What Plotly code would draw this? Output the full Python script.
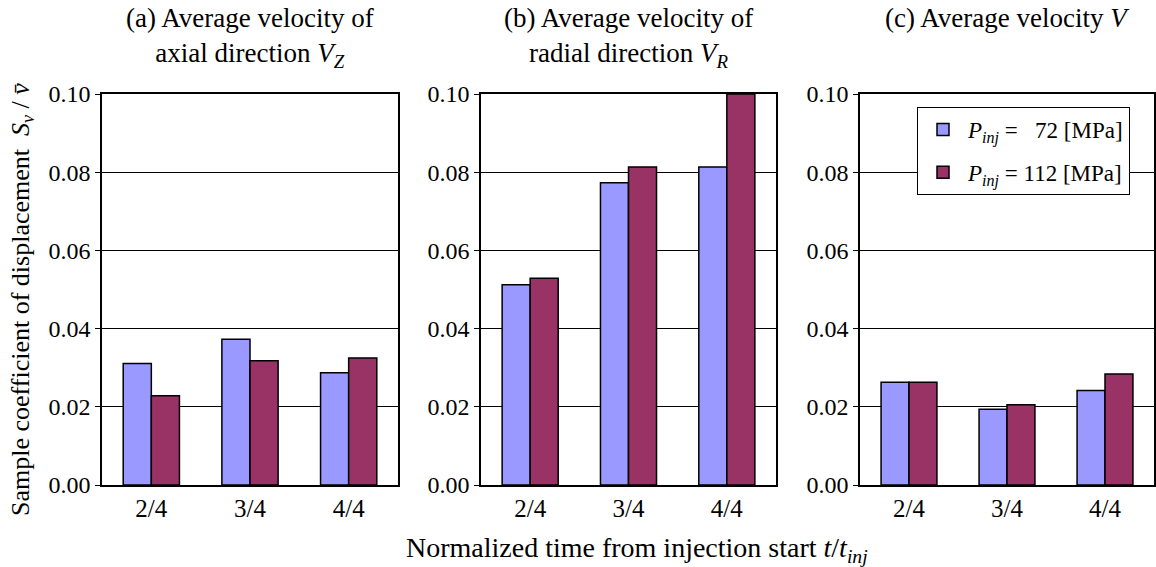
import plotly.graph_objects as go

categories = ["2/4", "3/4", "4/4"]
# Panel (a) axial V_Z
a_72 = [0.0311, 0.0373, 0.0287]
a_112 = [0.0228, 0.0318, 0.0325]
# Panel (b) radial V_R
b_72 = [0.0512, 0.0773, 0.0813]
b_112 = [0.0529, 0.0813, 0.1000]
# Panel (c) V
c_72 = [0.0263, 0.0194, 0.0242]
c_112 = [0.0263, 0.0205, 0.0284]

titles = ["(a) Average velocity of<br>axial direction <i>V</i><sub><i>Z</i></sub>",
          "(b) Average velocity of<br>radial direction <i>V</i><sub><i>R</i></sub>",
          "(c) Average velocity <i>V</i>"]
names = ["<i>P</i><sub><i>inj</i></sub> =&nbsp;&nbsp;&nbsp;72 [MPa]",
         "<i>P</i><sub><i>inj</i></sub> = 112 [MPa]"]
colors = ["#9999FF", "#993366"]

W, H = 1156, 567
FONT = "Liberation Serif, Times New Roman, serif"
xdoms = [(102, 398), (481, 776), (860, 1154)]
ytop, ybot = 94, 485

fig = go.Figure()
series = [(a_72, a_112), (b_72, b_112), (c_72, c_112)]
for i, (s72, s112) in enumerate(series):
    xa = "x" if i == 0 else f"x{i+1}"
    ya = "y" if i == 0 else f"y{i+1}"
    for j, vals in enumerate((s72, s112)):
        fig.add_trace(go.Bar(
            x=categories, y=vals, name=names[j], xaxis=xa, yaxis=ya,
            marker=dict(color=colors[j], line=dict(color="black", width=1.5)),
            showlegend=(i == 0), legendgroup=f"g{j}",
        ))

layout = dict(
    width=W, height=H, autosize=False,
    margin=dict(l=0, r=0, t=0, b=0, pad=0, autoexpand=False),
    paper_bgcolor="white", plot_bgcolor="white",
    font=dict(family=FONT, size=22, color="black"),
    barmode="group", bargap=0.43, bargroupgap=0,
    showlegend=True,
    legend=dict(x=917 / W, y=1 - 107 / H, xanchor="left", yanchor="top",
                bordercolor="black", borderwidth=1, bgcolor="white",
                font=dict(family=FONT, size=23, color="black"), traceorder="grouped",
                tracegroupgap=10, itemwidth=40),
)
for i, (x0, x1) in enumerate(xdoms):
    sfx = "" if i == 0 else str(i + 1)
    layout[f"xaxis{sfx}"] = dict(
        domain=[x0 / W, x1 / W], anchor=f"y{sfx}", automargin=False,
        showline=True, linecolor="black", linewidth=1.5, mirror=True,
        ticks="", showgrid=False, tickfont=dict(family=FONT, size=25, color="black"),
    )
    layout[f"yaxis{sfx}"] = dict(
        domain=[1 - ybot / H, 1 - ytop / H], anchor=f"x{sfx}", automargin=False,
        range=[0, 0.1], dtick=0.02, tickformat=".2f",
        showline=True, linecolor="black", linewidth=1.5, mirror=True,
        showgrid=True, gridcolor="black", gridwidth=1.2,
        ticks="outside", ticklen=5, tickcolor="black",
        tickfont=dict(family=FONT, size=24, color="black"), zeroline=False,
    )
fig.update_layout(**layout)

centers = [(x0 + x1) / 2 for x0, x1 in xdoms]
for i, t in enumerate(titles):
    fig.add_annotation(text=t, x=centers[i] / W, y=1 - 1 / H, xref="paper", yref="paper",
                       xanchor="center", yanchor="top", showarrow=False,
                       font=dict(family=FONT, size=27, color="black"))

fig.add_annotation(text="Normalized time from injection start <i>t</i>/<i>t</i><sub><i>inj</i></sub>",
                   x=637 / W, y=1 - 549 / H, xref="paper", yref="paper",
                   xanchor="center", yanchor="middle", showarrow=False,
                   font=dict(family=FONT, size=28, color="black"))
fig.add_annotation(text="Sample coefficient of displacement  <i>S</i><sub><i>v</i></sub> / <i>v\u0304</i>",
                   x=22 / W, y=1 - 300 / H, xref="paper", yref="paper",
                   xanchor="center", yanchor="middle", showarrow=False, textangle=-90,
                   font=dict(family=FONT, size=26, color="black"))

fig.write_html("out.html")
